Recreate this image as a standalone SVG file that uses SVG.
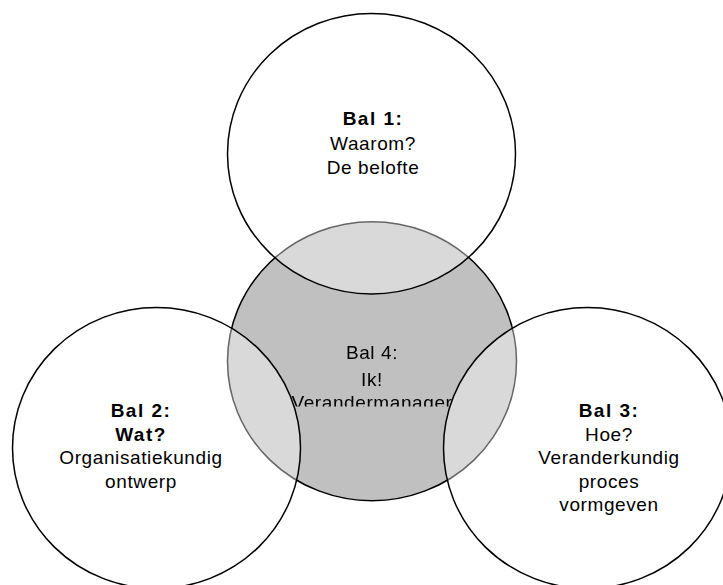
<svg xmlns="http://www.w3.org/2000/svg" width="723" height="585" viewBox="0 0 723 585">
  <style>
    .t { font-family: "Liberation Sans", Arial, sans-serif; font-size: 19px; fill: #000; text-anchor: middle; letter-spacing: 0.6px; }
    .b { font-weight: bold; letter-spacing: 1.5px; }
    .ball { fill: #ffffff; fill-opacity: 0.4; stroke: #000; stroke-width: 1.5; }
    .core { fill: #c0c0c0; stroke: #000; stroke-width: 1.5; }
  </style>
  <defs>
    <mask id="hideOverlap" maskUnits="userSpaceOnUse" x="0" y="0" width="723" height="585">
      <rect x="0" y="0" width="723" height="585" fill="#fff"/>
      <ellipse cx="371.5" cy="153.7" rx="144" ry="140.3" fill="#000"/>
      <ellipse cx="156.5" cy="448" rx="144" ry="140.5" fill="#000"/>
      <ellipse cx="587.5" cy="448" rx="144" ry="140.5" fill="#000"/>
    </mask>
    <clipPath id="textBox">
      <rect x="200" y="330" width="340" height="76.5"/>
    </clipPath>
  </defs>

  <g id="bal4">
    <ellipse class="core" cx="372" cy="361.2" rx="144.5" ry="139.5"/>
    <g mask="url(#hideOverlap)" clip-path="url(#textBox)">
      <text class="t" x="372" y="359">Bal 4:</text>
      <text class="t" x="372" y="386">Ik!</text>
      <text class="t" x="372" y="409">Verandermanager</text>
    </g>
  </g>

  <g id="bal1">
    <ellipse class="ball" cx="371.5" cy="153.7" rx="144" ry="140.3"/>
    <text class="t b" x="373" y="125">Bal 1:</text>
    <text class="t" x="373" y="150">Waarom?</text>
    <text class="t" x="373" y="174">De belofte</text>
  </g>

  <g id="bal2">
    <ellipse class="ball" cx="156.5" cy="448" rx="144" ry="140.5"/>
    <text class="t b" x="141" y="417">Bal 2:</text>
    <text class="t b" x="141" y="440.5">Wat?</text>
    <text class="t" x="141" y="464">Organisatiekundig</text>
    <text class="t" x="141" y="487.5">ontwerp</text>
  </g>

  <g id="bal3">
    <ellipse class="ball" cx="587.5" cy="448" rx="144" ry="140.5"/>
    <text class="t b" x="609" y="417">Bal 3:</text>
    <text class="t" x="609" y="440.5">Hoe?</text>
    <text class="t" x="609" y="464">Veranderkundig</text>
    <text class="t" x="609" y="487.5">proces</text>
    <text class="t" x="609" y="511">vormgeven</text>
  </g>

  <g id="connectors"></g>
</svg>
